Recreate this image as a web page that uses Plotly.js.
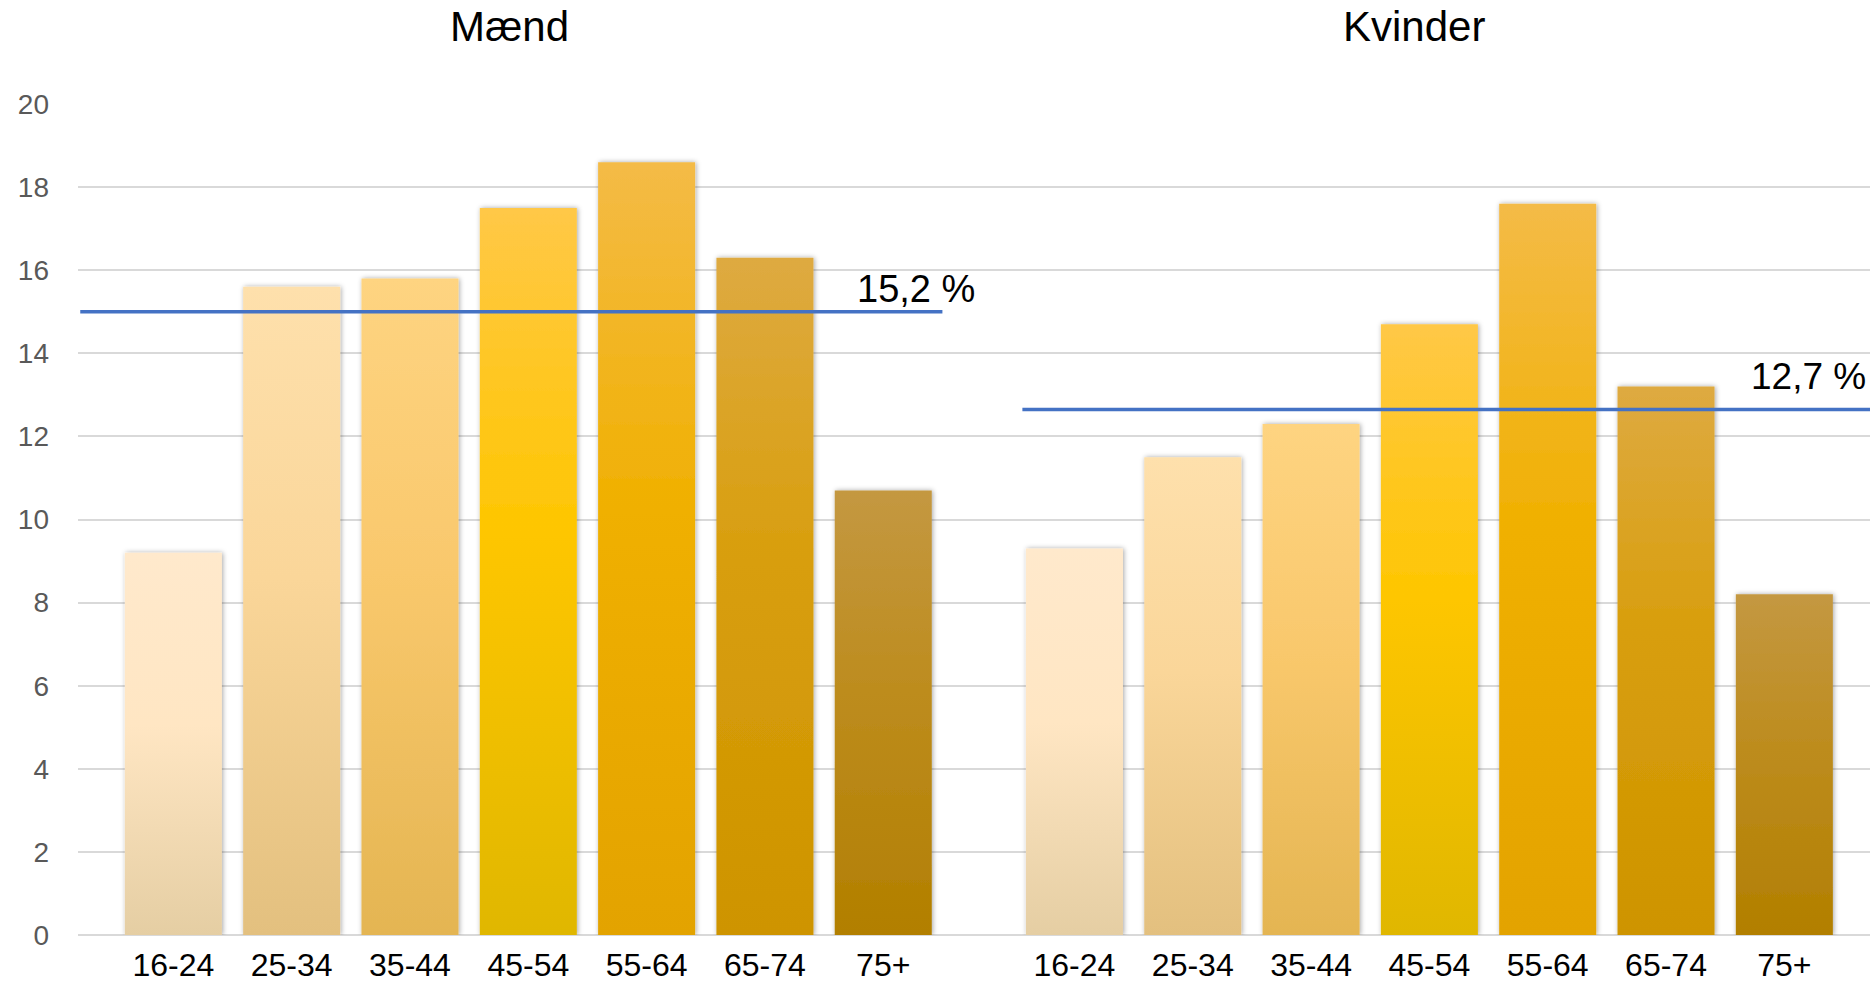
<!DOCTYPE html>
<html>
<head>
<meta charset="utf-8">
<script src="https://cdn.plot.ly/plotly-3.0.1.min.js"></script>
<style>
  html, body { margin: 0; padding: 0; background: #ffffff; overflow: hidden; }
  #chart { width: 1870px; height: 984px; }
</style>
</head>
<body>
<div id="chart"></div>
<script>
// ---- data ----
const categories = ['16-24', '25-34', '35-44', '45-54', '55-64', '65-74', '75+'];
const maendValues = [9.2, 15.6, 15.8, 17.5, 18.6, 16.3, 10.7];
const kvinderValues = [9.3, 11.5, 12.3, 14.7, 17.6, 13.2, 8.2];
const panelTitles = ['Mænd', 'Kvinder'];
const averageLevels = [15.0, 12.65];
const averageLabels = ['15,2 %', '12,7 %'];
const yTickValues = [0, 2, 4, 6, 8, 10, 12, 14, 16, 18, 20];

// ---- styles ----
const FONT = "'Liberation Sans', Arial, sans-serif";
const baseColors = ['#FBE0BC', '#F5D395', '#F5C66A', '#F7C300', '#EDAE00', '#D89E14', '#BC8A22'];
const gradientStops = [
  ['#FFE9CC', '#FFE6C3', '#E5CEA3'],
  ['#FEE0AC', '#FAD699', '#E3C07F'],
  ['#FED481', '#F9C86C', '#E4B552'],
  ['#FFC847', '#FEC600', '#E0B700'],
  ['#F4BB47', '#F0B000', '#E3A300'],
  ['#DEAA41', '#D89E0C', '#CE9400'],
  ['#C49841', '#BD8C1E', '#B27F00']
];

const barCommon = {
  type: 'bar',
  hoverinfo: 'x+y',
  showlegend: false
};

const traces = [
  Object.assign({}, barCommon, {
    x: categories, y: maendValues, xaxis: 'x', yaxis: 'y',
    marker: { color: baseColors, line: { width: 0 } }
  }),
  Object.assign({}, barCommon, {
    x: categories, y: kvinderValues, xaxis: 'x2', yaxis: 'y',
    marker: { color: baseColors, line: { width: 0 } }
  })
];

const lineStyle = { color: '#4472C4', width: 3.5 };
const n = categories.length;

const xTickFont = { family: FONT, size: 32, color: '#000000' };

const layout = {
  width: 1870,
  height: 984,
  margin: { l: 78, r: 0, t: 104, b: 49 },
  paper_bgcolor: '#ffffff',
  plot_bgcolor: '#ffffff',
  barmode: 'overlay',
  bargap: 0.18,
  font: { family: FONT, color: '#000000' },
  xaxis: {
    type: 'category',
    range: [-0.806, 14.34],
    showgrid: false, zeroline: false, showline: false,
    ticks: '',
    ticklabelstandoff: 8,
    tickfont: xTickFont,
    fixedrange: true
  },
  xaxis2: {
    type: 'category',
    overlaying: 'x',
    anchor: 'y',
    side: 'bottom',
    range: [-8.422, 6.724],
    showgrid: false, zeroline: false, showline: false,
    ticks: '',
    ticklabelstandoff: 8,
    tickfont: xTickFont,
    fixedrange: true
  },
  yaxis: {
    range: [0, 20],
    tickvals: yTickValues,
    ticktext: yTickValues.map(String),
    showgrid: true,
    gridcolor: '#D9D9D9',
    gridwidth: 2,
    zeroline: true,
    zerolinecolor: '#D9D9D9',
    zerolinewidth: 2,
    showline: false,
    ticks: '',
    ticklabelstandoff: 28,
    tickfont: { family: FONT, size: 28, color: '#595959' },
    fixedrange: true
  },
  shapes: [
    { type: 'line', xref: 'x', yref: 'y', x0: -0.787, x1: n - 0.5, y0: averageLevels[0], y1: averageLevels[0], line: lineStyle, layer: 'above' },
    { type: 'line', xref: 'x2', yref: 'y', x0: -0.44, x1: n + 0.5, y0: averageLevels[1], y1: averageLevels[1], line: lineStyle, layer: 'above' }
  ],
  annotations: [
    { text: panelTitles[0], xref: 'paper', yref: 'paper', x: 0.241, y: 1, xanchor: 'center', yanchor: 'bottom', yshift: 52, showarrow: false, font: { family: FONT, size: 42, color: '#000000' } },
    { text: panelTitles[1], xref: 'paper', yref: 'paper', x: 0.7453, y: 1, xanchor: 'center', yanchor: 'bottom', yshift: 52, showarrow: false, font: { family: FONT, size: 42, color: '#000000' } },
    { text: averageLabels[0], xref: 'x', yref: 'y', x: n - 1.24, y: averageLevels[0], xanchor: 'left', yanchor: 'bottom', yshift: 0, showarrow: false, font: { family: FONT, size: 38, color: '#000000' } },
    { text: averageLabels[1], xref: 'paper', yref: 'y', x: 1, y: averageLevels[1], xanchor: 'right', xshift: -2, yanchor: 'bottom', yshift: 10, showarrow: false, font: { family: FONT, size: 37, color: '#000000' } }
  ]
};

function applyGradients(gd) {
  const ns = 'http://www.w3.org/2000/svg';
  const svg = gd.querySelector('.main-svg');
  let defs = svg.querySelector('defs');
  if (!defs) { defs = document.createElementNS(ns, 'defs'); svg.insertBefore(defs, svg.firstChild); }
  gradientStops.forEach(function (stops, i) {
    const lg = document.createElementNS(ns, 'linearGradient');
    lg.setAttribute('id', 'bargrad' + i);
    lg.setAttribute('x1', '0'); lg.setAttribute('y1', '0');
    lg.setAttribute('x2', '0'); lg.setAttribute('y2', '1');
    [0, 0.45, 1].forEach(function (off, k) {
      const st = document.createElementNS(ns, 'stop');
      st.setAttribute('offset', off);
      st.setAttribute('stop-color', stops[k]);
      lg.appendChild(st);
    });
    defs.appendChild(lg);
  });
  const f = document.createElementNS(ns, 'filter');
  f.setAttribute('id', 'barshadow');
  f.setAttribute('x', '-20%'); f.setAttribute('y', '-5%');
  f.setAttribute('width', '140%'); f.setAttribute('height', '110%');
  const ds = document.createElementNS(ns, 'feDropShadow');
  ds.setAttribute('dx', '1'); ds.setAttribute('dy', '0');
  ds.setAttribute('stdDeviation', '2.5');
  ds.setAttribute('flood-color', '#000000');
  ds.setAttribute('flood-opacity', '0.35');
  f.appendChild(ds);
  defs.appendChild(f);

  gd.querySelectorAll('.barlayer .trace').forEach(function (tr) {
    tr.querySelectorAll('.point path').forEach(function (p, i) {
      p.style.fill = 'url(#bargrad' + (i % gradientStops.length) + ')';
      p.setAttribute('filter', 'url(#barshadow)');
    });
  });
}

Plotly.newPlot('chart', traces, layout, { displayModeBar: false, staticPlot: true })
  .then(applyGradients);
</script>
</body>
</html>
